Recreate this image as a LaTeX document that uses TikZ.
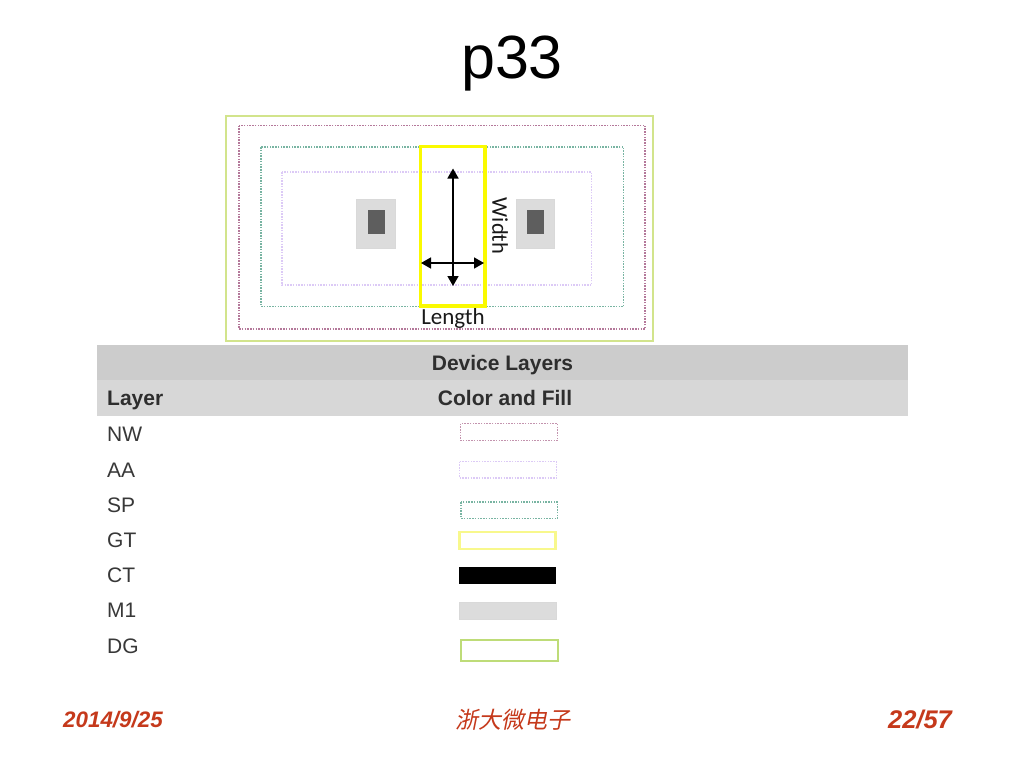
\documentclass[tikz,border=0pt]{standalone}
\usepackage{fontspec}
\setmainfont{Liberation Sans}
\newfontfamily\cjkslant[FakeSlant=0.2]{Noto Sans CJK SC}
\newfontfamily\lblfont{Carlito}
\usetikzlibrary{arrows.meta}
\definecolor{dgc}{HTML}{D2E48C}
\definecolor{dgl}{HTML}{BEDC78}
\definecolor{nwc}{HTML}{B4789A}
\definecolor{spc}{HTML}{78B4A2}
\definecolor{aac}{HTML}{DCCAF6}
\definecolor{gtc}{HTML}{FAFA00}
\definecolor{gtl}{HTML}{F8F88C}
\definecolor{mone}{HTML}{DCDCDC}
\definecolor{ctg}{HTML}{5E5E5E}
\definecolor{foot}{HTML}{C5391B}
\tikzset{
  dotline/.style={line width=1.6pt,dash pattern=on 1.5pt off 1.25pt},
  rowtext/.style={anchor=base west,font=\fontsize{21}{21}\selectfont,text=black!78,inner sep=0pt},
  headtext/.style={anchor=base,font=\bfseries\fontsize{21}{21}\selectfont,text=black!82,inner sep=0pt},
  foottext/.style={font=\bfseries\itshape\fontsize{22.4}{22.4}\selectfont,text=foot,inner sep=0pt},
  dimarrow/.style={line width=1.6pt,{Triangle[length=10pt,width=11pt]}-{Triangle[length=10pt,width=11pt]}},
  lbl/.style={text=black!90,inner sep=0pt}
}
\begin{document}
\begin{tikzpicture}[x=1pt,y=-1pt]
\useasboundingbox (0,0) rectangle (1024,768);
\fill[white] (0,0) rectangle (1024,768);
\node[font=\fontsize{61}{61}\selectfont,inner sep=0pt,anchor=base] (title) at (512,78) {p33};
% layout
\draw[dgc,line width=2pt] (226,116) rectangle (653,341);
\draw[nwc,dotline] (239,125.5) rectangle (645,329);
\draw[spc,dotline] (261,147) rectangle (623.5,306.5);
\draw[aac,dotline] (282,172) rectangle (591.5,285);
\draw[gtc,line width=3.2pt] (420.5,146.5) rectangle (485,306);
\fill[mone,draw=black!15,line width=.5pt] (356,199) rectangle (395,248);
\fill[ctg] (368,209.5) rectangle (385,234);
\fill[mone,draw=black!15,line width=.5pt] (516,199) rectangle (554.5,248);
\fill[ctg] (527,209.5) rectangle (544,234);
\coordinate (vtop) at (453,168.5);
\coordinate (vbot) at (453,286);
\coordinate (hleft) at (421,263);
\coordinate (hright) at (484,263);
\draw[dimarrow] (vtop) -- (vbot);
\draw[dimarrow] (hleft) -- (hright);
\node[lbl,rotate=-90,font=\lblfont\fontsize{22.5}{22.5}\selectfont] (width) at (500,226) {Width};
\node[lbl,font=\lblfont\fontsize{23}{23}\selectfont] (length) at (453,318) {Length};
% table
\fill[black!20] (97,345) rectangle (908,380);
\fill[black!15.5] (97,380) rectangle (908,415.5);
\node[headtext] (devlayers) at (502.5,370) {Device Layers};
\node[headtext,anchor=base west] (layerh) at (107,405) {Layer};
\node[headtext] (colorh) at (505,405) {Color and Fill};
\node[rowtext] (nw) at (107,441.5) {NW};
\node[rowtext] (aa) at (107,477) {AA};
\node[rowtext] (sp) at (107,512) {SP};
\node[rowtext] (gt) at (107,547) {GT};
\node[rowtext] (ct) at (107,582) {CT};
\node[rowtext] (m1) at (107,617.5) {M1};
\node[rowtext] (dg) at (107,653) {DG};
% legend
\draw[nwc!80,dotline] (460.5,423.5) rectangle (557.5,440.5);
\draw[aac,dotline] (459.5,461.5) rectangle (556.5,478);
\draw[spc,dotline] (461,502) rectangle (557.5,518.5);
\draw[gtl,line width=2.2pt] (459.5,532) rectangle (555.5,549);
\fill[black] (459,567) rectangle (556,584);
\fill[mone,draw=black!15,line width=.5pt] (459,602) rectangle (556,619.5);
\draw[dgl,line width=2pt] (461,639.5) rectangle (557.5,660.5);
% footer
\node[foottext] (date) at (113,719.5) {2014/9/25};
\node[font=\cjkslant\fontsize{23}{23}\selectfont,text=foot,inner sep=0pt] (org) at (513,720) {浙大微电子};
\node[font=\bfseries\itshape\fontsize{25.5}{25.5}\selectfont,text=foot,inner sep=0pt] (page) at (920,720) {22/57};
\end{tikzpicture}
\end{document}
